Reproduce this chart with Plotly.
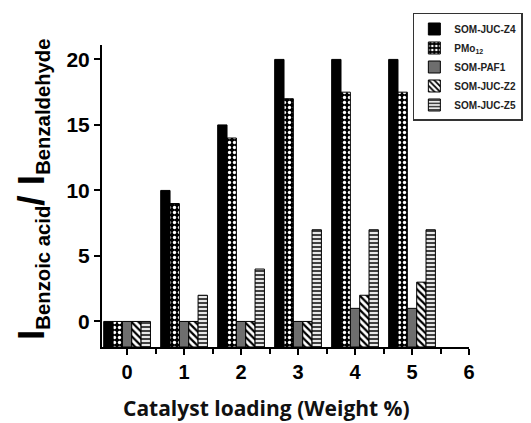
import plotly.graph_objects as go

loadings = [0, 1, 2, 3, 4, 5]
som_juc_z4 = [0, 10, 15, 20, 20, 20]
pmo12 = [0, 9, 14, 17, 17.5, 17.5]
som_paf1 = [0, 0, 0, 0, 1, 1]
som_juc_z2 = [0, 0, 0, 0, 2, 3]
som_juc_z5 = [0, 2, 4, 7, 7, 7]
x_ticks = [0, 1, 2, 3, 4, 5, 6]
y_ticks = [0, 5, 10, 15, 20]

Y_MIN, Y_MAX = -1.95, 21.1

series = [
    ("SOM-JUC-Z4", som_juc_z4, dict(color="black")),
    ("PMo<sub>12</sub>", pmo12, dict(color="black", pattern=dict(shape=".", fillmode="replace", bgcolor="black", fgcolor="white", size=5, solidity=0.35))),
    ("SOM-PAF1", som_paf1, dict(color="#6e6e6e")),
    ("SOM-JUC-Z2", som_juc_z2, dict(color="white", pattern=dict(shape="\\", fillmode="replace", bgcolor="white", fgcolor="black", size=5, solidity=0.45))),
    ("SOM-JUC-Z5", som_juc_z5, dict(color="white", pattern=dict(shape="-", fillmode="replace", bgcolor="#e8e8e8", fgcolor="#404040", size=4, solidity=0.5))),
]

fig = go.Figure()
for name, vals, mk in series:
    mk = dict(mk)
    mk["line"] = dict(color="black", width=1)
    fig.add_trace(go.Bar(
        x=loadings, y=[v - Y_MIN for v in vals], base=Y_MIN,
        name=name, marker=mk,
    ))

fig.update_layout(
    width=531, height=423,
    margin=dict(l=94, r=70, t=37, b=84, autoexpand=False),
    paper_bgcolor="white", plot_bgcolor="white",
    barmode="group", bargap=0.18, bargroupgap=0,
    showlegend=True,
    legend=dict(
        x=0.847, y=1.106, xanchor="left", yanchor="top",
        bordercolor="#333", borderwidth=1.5, bgcolor="white",
        font=dict(family="Liberation Sans", size=10, color="#222", weight="bold"),
        tracegroupgap=0, itemwidth=30,
    ),
    font=dict(family="Liberation Sans", color="black"),
)
fig.update_xaxes(
    range=[-0.44, 6.0], tickvals=x_ticks, ticktext=[str(t) for t in x_ticks],
    showgrid=False, zeroline=False, showline=True, linecolor="black", linewidth=2,
    ticks="outside", ticklen=6, tickwidth=2, tickcolor="black", automargin=False,
    minor=dict(dtick=0.5, ticks="outside", ticklen=5, tickwidth=2, tickcolor="black"),
    tickfont=dict(family="Liberation Sans", size=20, color="black", weight="bold"),
)
fig.update_yaxes(
    range=[Y_MIN, Y_MAX], tickvals=y_ticks, ticktext=[str(t) for t in y_ticks],
    showgrid=False, zeroline=False, showline=True, linecolor="black", linewidth=2,
    ticks="outside", ticklen=6, tickwidth=2, tickcolor="black", automargin=False,
    tickfont=dict(family="Liberation Sans", size=21, color="black", weight="bold"),
)
fig.add_annotation(
    xref="paper", yref="paper", x=-0.188, y=0.52, xanchor="center", yanchor="middle",
    textangle=-90, showarrow=False,
    text='<b><span style="font-size:37px">I</span><sub>Benzoic acid</sub><span style="font-size:37px">/ I</span><sub>Benzaldehyde</sub></b>',
    font=dict(family="Liberation Sans", size=29, color="black"),
)
fig.add_annotation(
    xref="paper", yref="paper", x=(258 - 94) / 367, y=-0.202, xanchor="center", yanchor="middle",
    showarrow=False,
    text="<b>Catalyst loading (Weight %)</b>",
    font=dict(family="Open Sans", size=21, color="#111"),
)

fig.write_html("out.html")
